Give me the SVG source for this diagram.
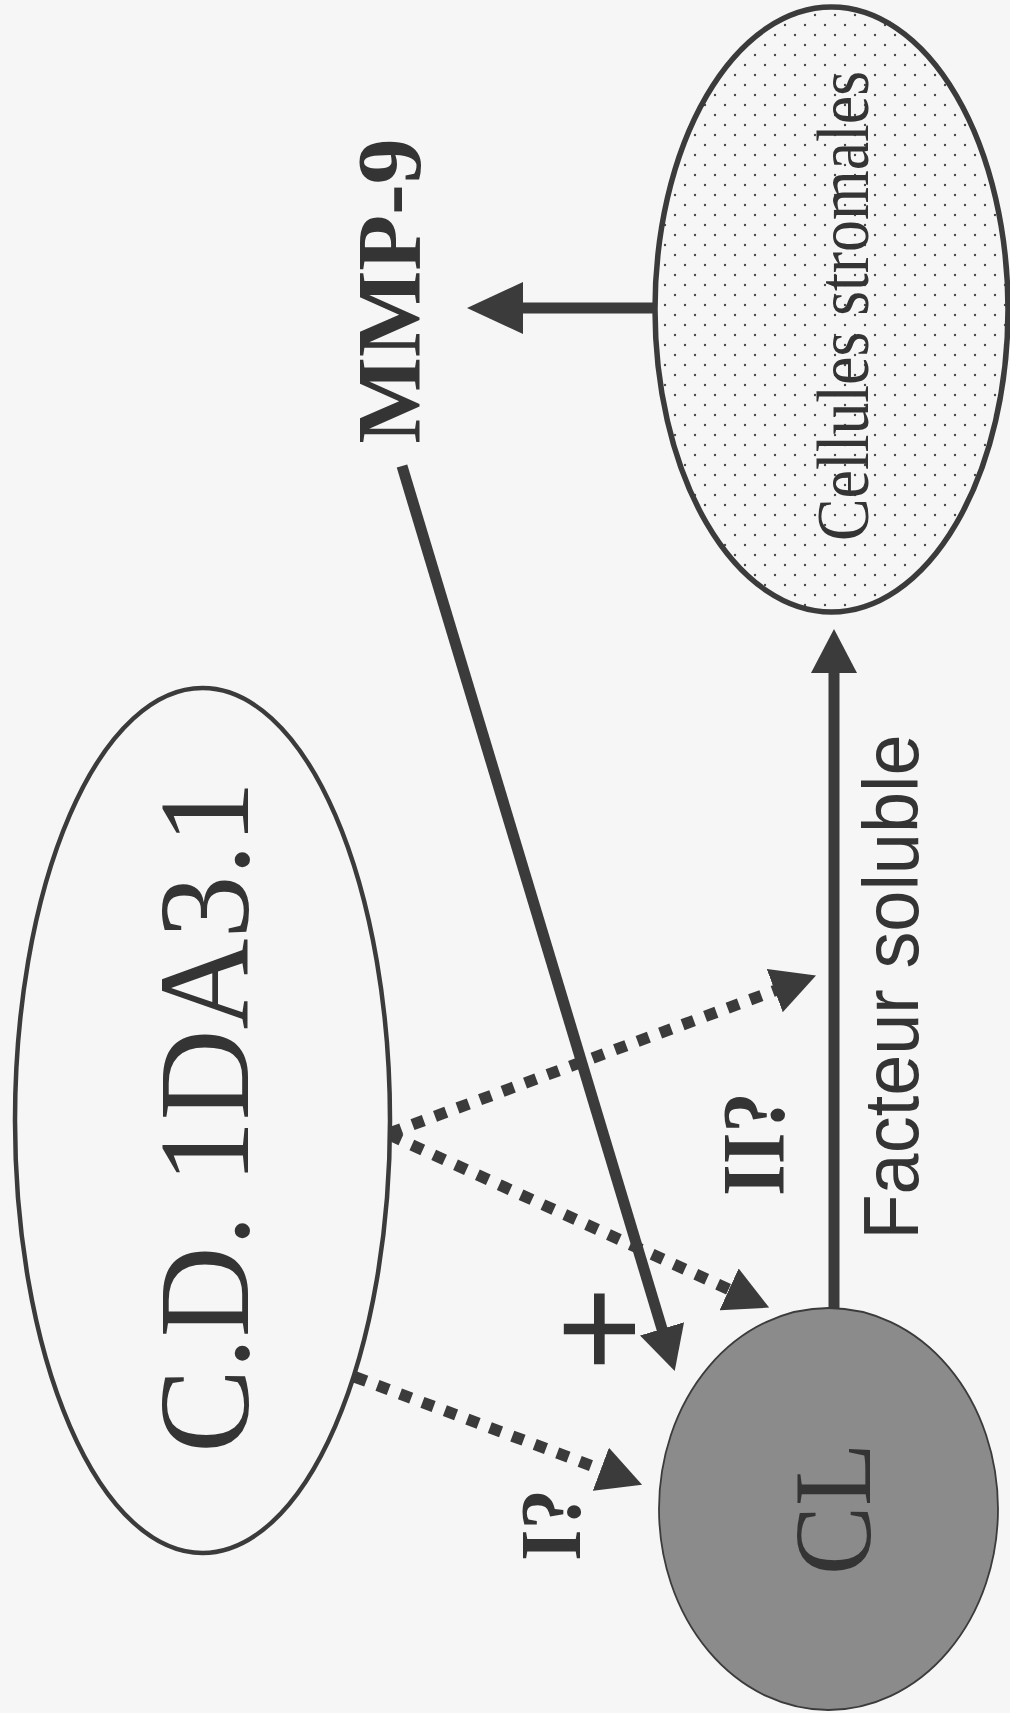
<svg xmlns="http://www.w3.org/2000/svg" width="1010" height="1713" viewBox="0 0 1010 1713">
  <style>
    .edge { fill: none; stroke: #3b3b3b; }
    .solid { stroke-width: 11; }
    .dotted { stroke-width: 11.5; stroke-dasharray: 12 12; }
    .serif { font-family: "Liberation Serif", "Times New Roman", serif; fill: #343434; }
    .sans { font-family: "Liberation Sans", Arial, sans-serif; fill: #343434; }
    .bold { font-weight: bold; }
  </style>
  <defs>
    <!-- stippled fill for the stromal cell body -->
    <pattern id="stipple" width="20" height="20" patternUnits="userSpaceOnUse">
      <rect width="20" height="20" fill="#f6f6f6"/>
      <circle cx="5" cy="5" r="1.2" fill="#4a4a4a"/>
      <circle cx="15" cy="15" r="1.2" fill="#4a4a4a"/>
    </pattern>
    <marker id="head" markerUnits="userSpaceOnUse" viewBox="0 0 44 46" markerWidth="44" markerHeight="46" refX="1" refY="23" orient="auto">
      <path d="M0,0 L44,23 L0,46 z" fill="#3b3b3b"/>
    </marker>
    <marker id="headBig" markerUnits="userSpaceOnUse" viewBox="0 0 56 52" markerWidth="56" markerHeight="52" refX="1" refY="26" orient="auto">
      <path d="M0,0 L56,26 L0,52 z" fill="#3b3b3b"/>
    </marker>
  </defs>

  <rect width="1010" height="1713" fill="#f6f6f6"/>

  <!-- connectors -->
  <g id="connectors">
    <!-- stromal cells release MMP-9 -->
    <line class="edge solid" x1="655" y1="308" x2="522" y2="308" stroke-width="13" marker-end="url(#headBig)"/>
    <!-- MMP-9 acts on CL (+) -->
    <line class="edge solid" x1="402" y1="466" x2="662.3" y2="1329.9" stroke-width="10" marker-end="url(#head)"/>
    <!-- CL secretes a soluble factor toward stromal cells -->
    <line class="edge solid" x1="834" y1="1308" x2="834" y2="672" stroke-width="12" marker-end="url(#head)"/>
    <!-- hypothetical pathways from C.D. 1DA3.1 -->
    <line class="edge dotted" x1="355" y1="1377" x2="601.8" y2="1469.6" marker-end="url(#head)"/>
    <line class="edge dotted" x1="390" y1="1135" x2="730" y2="1289.8" marker-end="url(#head)"/>
    <line class="edge dotted" x1="390" y1="1133" x2="775.7" y2="990.3" marker-end="url(#head)"/>
  </g>

  <g id="node-cd">
    <ellipse cx="202.5" cy="1120.5" rx="187.5" ry="432.5" fill="none" stroke="#3b3b3b" stroke-width="4.5"/>
    <text class="serif" font-size="130" text-anchor="middle" textLength="672" lengthAdjust="spacingAndGlyphs" transform="translate(248,1117) rotate(-90)">C.D. 1DA3.1</text>
  </g>

  <g id="node-stromal">
    <ellipse cx="831.5" cy="309.5" rx="176.5" ry="302.5" fill="url(#stipple)" stroke="#3b3b3b" stroke-width="5.5"/>
    <text class="serif" font-size="74" text-anchor="middle" textLength="470" lengthAdjust="spacingAndGlyphs" transform="translate(868,306) rotate(-90)">Cellules stromales</text>
  </g>

  <g id="node-cl">
    <ellipse cx="828.5" cy="1509" rx="169.5" ry="201" fill="#8b8b8b" stroke="#3b3b3b" stroke-width="1.8"/>
    <text class="serif" font-size="110" text-anchor="middle" textLength="132" lengthAdjust="spacingAndGlyphs" transform="translate(870,1509) rotate(-90)">CL</text>
  </g>

  <g id="node-mmp9">
    <text class="serif bold" font-size="90" text-anchor="middle" textLength="305" lengthAdjust="spacingAndGlyphs" transform="translate(420,291) rotate(-90)">MMP-9</text>
  </g>

  <g id="labels">
    <text class="sans" font-size="77" text-anchor="middle" textLength="505" lengthAdjust="spacingAndGlyphs" transform="translate(918,987) rotate(-90)">Facteur soluble</text>
    <text class="serif bold" font-size="88" text-anchor="middle" textLength="104" lengthAdjust="spacingAndGlyphs" transform="translate(783,1144) rotate(-90)">II?</text>
    <text class="serif bold" font-size="86" text-anchor="middle" textLength="72" lengthAdjust="spacingAndGlyphs" transform="translate(580,1525) rotate(-90)">I?</text>
    <text class="serif bold" font-size="152" text-anchor="middle" transform="translate(650,1329) rotate(-90)">+</text>
  </g>
</svg>
